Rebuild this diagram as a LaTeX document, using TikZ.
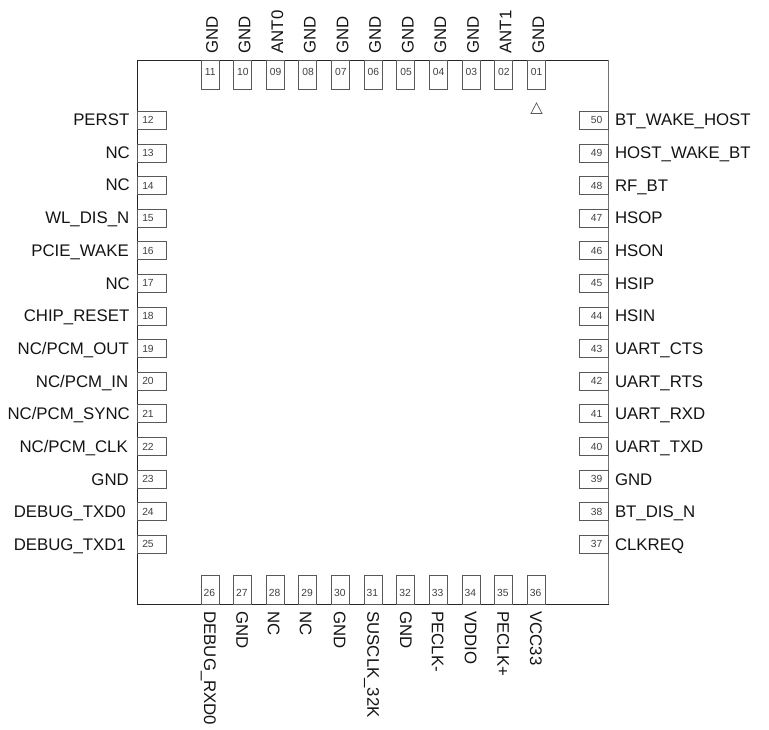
\documentclass[tikz,border=0pt]{standalone}
\usepackage{fontspec}
\setmainfont{Liberation Sans}
\definecolor{pinline}{gray}{0.35}
\definecolor{numtext}{gray}{0.25}
\definecolor{labtext}{gray}{0.08}
\tikzset{
  chip/.style={draw=black!85,line width=0.9pt,fill=white,inner sep=0pt,minimum width=471pt,minimum height=543.5pt},
  chipedge/.style={draw=black!55,line width=1pt},
  pinv/.style={draw=pinline,line width=0.8pt,fill=white,inner sep=0pt,minimum width=18pt,minimum height=29pt},
  pinh/.style={draw=pinline,line width=0.8pt,fill=white,inner sep=0pt,minimum width=29pt,minimum height=18pt},
  num/.style={text=numtext,inner sep=0pt,font=\fontsize{10.3}{11}\selectfont},
  lab/.style={text=labtext,inner sep=0pt,text height=11.56pt,text depth=0pt,font=\fontsize{16.8}{18}\selectfont},
  marker/.style={draw=pinline,line width=0.7pt}
}
\begin{document}
\begin{tikzpicture}[x=1pt,y=-1pt]
\useasboundingbox (0,0) rectangle (769,729);
\node[chip] (body) at (373,332.25) {};
\draw[chipedge] (body.north east) -- (body.south east);
% top pins 11..01
\foreach \n/\t [count=\i from 0] in {11/GND,10/GND,09/ANT0,08/GND,07/GND,06/GND,05/GND,04/GND,03/GND,02/ANT1,01/GND}{
  \pgfmathsetmacro{\px}{210+32.63*\i}
  \node[pinv] (p\n) at (\px,75) {};
  \node[num] (n\n) at (\px+0.3,72) {\n};
  \node[lab,rotate=90,anchor=west] (l\n) at (\px+2,53.7) {\t};
}
% left pins 12..25
\foreach \n/\t/\e [count=\i from 0] in {12/PERST/129.5,13/NC/130,14/NC/130,15/WL\_DIS\_N/129.5,16/PCIE\_WAKE/129,17/NC/130,18/CHIP\_RESET/129.5,19/NC\slash PCM\_OUT/129,20/NC\slash PCM\_IN/128.5,21/NC\slash PCM\_SYNC/130,22/NC\slash PCM\_CLK/128,23/GND/129,24/DEBUG\_TXD0/126,25/DEBUG\_TXD1/126}{
  \pgfmathsetmacro{\py}{120.3+32.62*\i}
  \pgfmathsetmacro{\ty}{119.8+32.69*\i}
  \node[pinh] (p\n) at (152,\py) {};
  \node[num] (n\n) at (148,\py) {\n};
  \node[lab,anchor=east] (l\n) at (\e,\ty) {\t};
}
% right pins 50..37
\foreach \n/\t [count=\i from 0] in {50/BT\_WAKE\_HOST,49/HOST\_WAKE\_BT,48/RF\_BT,47/HSOP,46/HSON,45/HSIP,44/HSIN,43/UART\_CTS,42/UART\_RTS,41/UART\_RXD,40/UART\_TXD,39/GND,38/BT\_DIS\_N,37/CLKREQ}{
  \pgfmathsetmacro{\py}{120.3+32.62*\i}
  \pgfmathsetmacro{\ty}{119.9+32.69*\i}
  \node[pinh] (p\n) at (594,\py) {};
  \node[num] (n\n) at (596.5,\py) {\n};
  \node[lab,anchor=west] (l\n) at (614.8,\ty) {\t};
}
% bottom pins 26..36
\foreach \n/\t/\o [count=\i from 0] in {26/DEBUG\_RXD0/-0.2,27/GND/-0.5,28/NC/-1.5,29/NC/-2.2,30/GND/-0.9,31/SUSCLK\_32K/-0.1,32/GND/0.1,33/PECLK-/-0.8,34/VDDIO/-0.5,35/PECLK+/-0.5,36/VCC33/-0.5}{
  \pgfmathsetmacro{\px}{210+32.63*\i}
  \node[pinv] (p\n) at (\px,589.5) {};
  \node[num] (n\n) at (\px-0.7,593) {\n};
  \node[lab,rotate=-90,anchor=west] (l\n) at (\px+\o,611.2) {\t};
}
% pin one marker
\draw[marker] (536.5,103) -- (531,113.5) -- (542,113.5) -- cycle;
\end{tikzpicture}
\end{document}
